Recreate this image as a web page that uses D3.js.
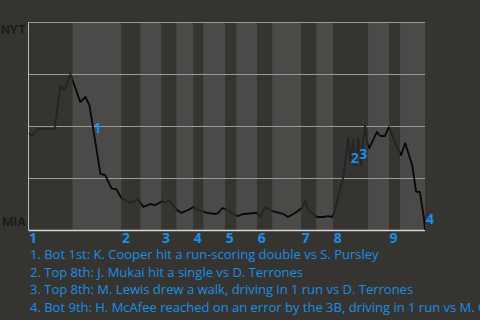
<!DOCTYPE html>
<html>
<head>
<meta charset="utf-8">
<script src="https://cdn.jsdelivr.net/npm/d3@7"></script>
<style>
  body { margin: 0; background: #363430; }
  svg { display: block; }
</style>
</head>
<body>
<div id="chart-container"></div>
<script>
// half inning start positions (in plays), last entry is end of game
const halfInningStarts = [0, 12, 25.3, 30.5, 36.2, 40.3, 44.9, 47.6, 53.6, 56.6, 62.3, 66.4, 74.3, 78.4, 83, 92.5, 98.2, 101.2, 108];
const inningLabels = ["1", "2", "3", "4", "5", "6", "7", "8", "9"];

// win probability for NYT, by play
const playIndex = [0, 0.8, 2.7, 7.1, 8.7, 9.8, 11.4, 14.1, 15.5, 16.6, 19.6, 20.9, 22.6, 23.9, 25.3, 27.7, 29.7,
  31.3, 33.2, 34.5, 36.5, 37.3, 38.1, 40.5, 41.6, 43.5, 44.9, 46.2, 48.7, 50.9, 51.7, 52.8, 54.1, 55.0,
  56.9, 58.5, 62.3, 63.1, 64.5, 66.4, 69.4, 70.7, 72.6, 74.5, 75.4, 76.2, 78.6, 80.3, 81.6, 82.7, 83.5, 84.9,
  85.7, 87.1, 87.6, 88.1, 88.4, 89.0, 89.5, 89.8, 90.6, 91.1, 91.7, 92.2, 92.8, 94.9, 95.8, 97.1, 98.2,
  99.8, 101.5, 102.6, 104.5, 105.6, 106.6, 107.7, 108];
const winProb = [0.466, 0.452, 0.486, 0.486, 0.692, 0.673, 0.75, 0.615, 0.64, 0.60, 0.27, 0.264, 0.20, 0.197, 0.154, 0.13, 0.149,
  0.111, 0.125, 0.12, 0.139, 0.13, 0.144, 0.096, 0.082, 0.096, 0.111, 0.096, 0.082, 0.077, 0.082, 0.106, 0.096, 0.087,
  0.067, 0.077, 0.082, 0.0625, 0.111, 0.091, 0.077, 0.0625, 0.082, 0.106, 0.139, 0.096, 0.0625, 0.0625, 0.067, 0.0625, 0.096, 0.20,
  0.25, 0.442, 0.327, 0.394, 0.433, 0.3125, 0.375, 0.442, 0.3125, 0.423, 0.505, 0.423, 0.394, 0.471, 0.452, 0.452, 0.495,
  0.423, 0.36, 0.418, 0.3125, 0.183, 0.183, 0.058, 0];

// key plays
const keyPlayIndex = [17.4, 87.5, 89.8, 108];
const keyPlayProb = [0.49, 0.345, 0.365, 0.055];
const keyPlayText = [
  "1. Bot 1st: K. Cooper hit a run-scoring double vs S. Pursley",
  "2. Top 8th: J. Mukai hit a single vs D. Terrones",
  "3. Top 8th: M. Lewis drew a walk, driving in 1 run vs D. Terrones",
  "4. Bot 9th: H. McAfee reached on an error by the 3B, driving in 1 run vs M. Ortega"
];
const teams = ["NYT", "MIA"];
const gridTicks = [0.25, 0.5, 0.75, 1];

const width = 480, height = 320;
const blue = "#1a8fe6";

const svg = d3.select("#chart-container").append("svg")
    .attr("width", width)
    .attr("height", height);

const x = d3.scaleLinear().domain([0, 108]).range([28.5, 425]);
const y = d3.scaleLinear().domain([0, 1]).range([230, 22]);

const halves = d3.range(halfInningStarts.length - 1).map(i => ({
  i: i,
  start: halfInningStarts[i],
  end: halfInningStarts[i + 1]
}));

// half inning bands
svg.append("g").selectAll("rect")
    .data(halves)
    .enter().append("rect")
    .attr("x", d => x(d.start))
    .attr("y", y(1))
    .attr("width", d => x(d.end) - x(d.start))
    .attr("height", y(0) - y(1))
    .attr("fill", d => d.i % 2 === 0 ? "#363430" : "#4b4a48");

// grid lines
svg.append("g").selectAll("line")
    .data(gridTicks)
    .enter().append("line")
    .attr("x1", x(0))
    .attr("x2", x(108))
    .attr("y1", d => Math.round(y(d)) + 0.5)
    .attr("y2", d => Math.round(y(d)) + 0.5)
    .attr("stroke", "#9c9b99")
    .attr("stroke-width", 1);

svg.append("line")
    .attr("x1", x(0)).attr("x2", x(0))
    .attr("y1", y(1)).attr("y2", y(0))
    .attr("stroke", "#bdbcba");

svg.append("line")
    .attr("x1", x(0)).attr("x2", x(108))
    .attr("y1", y(0) + 0.5).attr("y2", y(0) + 0.5)
    .attr("stroke", "#d6d5d3")
    .attr("stroke-width", 1.5);

// line, split by who is batting
const points = playIndex.map((p, i) => ({ p: p, wp: winProb[i] }));
const line = d3.line().x(d => x(d.p)).y(d => y(d.wp));

[0, 1].forEach(side => {
  const clipId = "clip-" + side;
  svg.append("clipPath")
      .attr("id", clipId)
      .selectAll("rect")
      .data(halves.filter(d => d.i % 2 === side))
      .enter().append("rect")
      .attr("x", d => x(d.start))
      .attr("y", 0)
      .attr("width", d => x(d.end) - x(d.start))
      .attr("height", height);

  svg.append("path")
      .datum(points)
      .attr("clip-path", `url(#${clipId})`)
      .attr("fill", "none")
      .attr("stroke", side === 0 ? "#242424" : "#080808")
      .attr("stroke-width", 1.8)
      .attr("stroke-linejoin", "round")
      .attr("d", line);
});

// team labels
svg.selectAll(".team")
    .data(teams)
    .enter().append("text")
    .attr("class", "team")
    .attr("x", 26)
    .attr("y", (d, i) => i === 0 ? y(1) + 12 : y(0) - 4)
    .attr("text-anchor", "end")
    .style("font-family", "Roboto, sans-serif")
    .style("font-weight", "bold")
    .style("font-size", "13px")
    .style("fill", "#1c1c1c")
    .text(d => d);

// inning numbers
svg.selectAll(".inning")
    .data(inningLabels)
    .enter().append("text")
    .attr("class", "inning")
    .attr("x", (d, i) => x(halfInningStarts[i * 2]) + 0.5)
    .attr("y", 243)
    .style("font-family", "'Open Sans', sans-serif")
    .style("font-weight", "bold")
    .style("font-size", "14px")
    .style("fill", blue)
    .text(d => d);

// key play markers
svg.selectAll(".marker")
    .data(keyPlayIndex)
    .enter().append("text")
    .attr("class", "marker")
    .attr("x", (d, i) => x(d) + 1)
    .attr("y", (d, i) => y(keyPlayProb[i]) + 5)
    .style("font-family", "'Open Sans', sans-serif")
    .style("font-weight", "bold")
    .style("font-size", "14px")
    .style("fill", blue)
    .text((d, i) => i + 1);

// key play descriptions
svg.selectAll(".desc")
    .data(keyPlayText)
    .enter().append("text")
    .attr("class", "desc")
    .attr("x", 30)
    .attr("y", (d, i) => 259 + i * 17.7)
    .style("font-family", "'Open Sans', sans-serif")
    .style("font-size", "13px")
    .style("fill", blue)
    .text(d => d);
</script>
</body>
</html>
